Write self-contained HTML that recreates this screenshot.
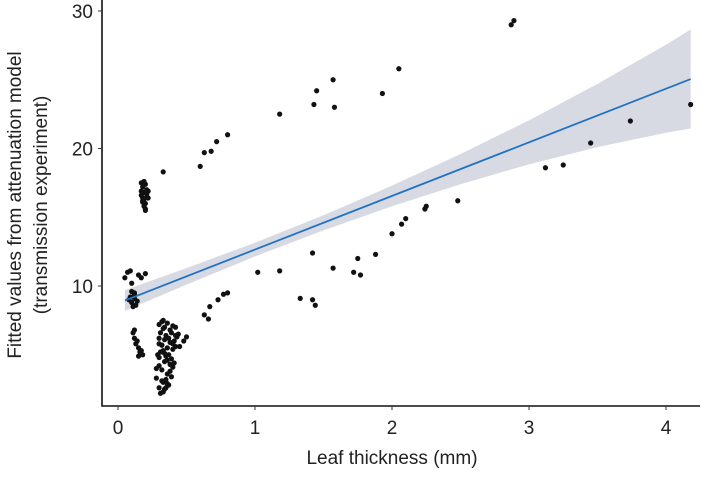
<!DOCTYPE html>
<html><head><meta charset="utf-8"><style>
body{margin:0;background:#fff;}
svg text{font-family:"Liberation Sans",Arial,sans-serif;}
</style></head><body>
<svg id="chart" width="709" height="472" viewBox="0 0 709 472">
<g id="band-g"></g><g id="pts-g"></g><g id="line-g"></g><g id="axes-g"></g>
</svg>
<script>
const xTicks=[0,1,2,3,4];
const yTicks=[10,20,30];
const fitX=[0.05,4.18];
const fitIntercept=8.75, fitSlope=3.9;
const bandX=[0.05,0.5,1,1.5,2,2.5,3,3.5,4,4.18];
const bandHalf=[0.75,0.6,0.5,0.55,0.75,1.1,1.6,2.3,3.2,3.6];
const ptX=[0.33,0.6,0.63,0.68,0.72,0.8,1.18,1.43,1.45,1.57,1.58,1.93,2.05,2.87,2.89,4.18,3.74,3.45,3.25,3.12,2.48,2.25,2.24,2.1,2.07,2.0,1.88,1.75,1.72,1.77,1.57,1.42,1.44,1.42,1.33,1.18,1.02,0.8,0.77,0.73,0.67,0.63,0.66,0.5,
0.17,0.18,0.19,0.2,0.21,0.18,0.17,0.2,0.22,0.19,0.18,0.21,0.2,0.19,0.17,0.2,0.18,0.21,0.19,0.22,
0.05,0.07,0.09,0.1,0.12,0.15,0.17,0.2,0.08,0.1,0.12,0.09,0.11,0.13,0.14,0.1,0.12,
0.11,0.12,0.13,0.15,0.16,0.14,0.18,0.17,0.12,0.15,
0.3,0.32,0.34,0.36,0.38,0.4,0.42,0.44,0.31,0.33,0.35,0.37,0.39,0.41,0.43,0.3,0.32,0.34,0.36,0.38,0.4,0.42,0.29,0.31,0.33,0.35,0.37,0.39,0.41,0.45,0.28,0.3,0.32,0.34,0.36,0.38,0.4,0.33,0.35,0.37,0.39,0.3,0.32,0.34,0.36,0.31,0.33,0.35,0.3,0.32,0.34,0.36,0.38,0.48,0.4,0.42,0.28,0.3,0.33];
const ptY=[18.3,18.7,19.7,19.8,20.5,21,22.5,23.2,24.2,25,23,24,25.8,29,29.3,23.2,22,20.4,18.8,18.6,16.2,15.8,15.6,14.9,14.5,13.8,12.3,12,11,10.8,11.3,12.4,8.6,9,9.1,11.1,11,9.5,9.4,9,8.5,7.9,7.6,6.3,
17.5,17.2,16.8,17.4,16.5,16.2,16.6,16,16.9,15.8,16.4,17,15.6,16.3,16.9,15.5,16.1,16.7,17.6,16.4,
10.6,11,11.1,10.2,9.5,10.8,10.6,10.9,9.0,8.8,9.4,9.2,8.5,8.6,8.9,9.6,9.1,
6.6,6.2,5.8,5.5,5.2,6.0,5.0,5.3,6.8,4.9,
7.2,7.4,7.0,7.3,6.8,7.1,7.0,6.5,6.6,6.9,6.4,6.2,6.6,6.0,6.3,5.8,5.7,6.1,5.5,5.9,5.4,5.6,5.0,5.2,5.3,4.9,5.0,4.7,4.4,5.6,4.0,4.2,3.9,4.5,3.6,3.8,4.1,3.0,3.2,2.8,3.4,2.6,3.1,2.5,2.9,2.2,2.3,2.6,6.2,5.7,5.1,4.6,4.3,6.0,5.8,6.4,3.3,4.8,7.5];
const X0=118,XS=137,Y0=423.5,YS=13.75;
const sx=v=>X0+v*XS, sy=v=>Y0-v*YS;
const NS='http://www.w3.org/2000/svg';
function mk(t,a,p){const e=document.createElementNS(NS,t);for(const k in a)e.setAttribute(k,a[k]);p.appendChild(e);return e;}
const fit=x=>fitIntercept+fitSlope*x;
let up=bandX.map((x,i)=>sx(x)+','+sy(fit(x)+bandHalf[i]));
let lo=bandX.map((x,i)=>sx(x)+','+sy(fit(x)-bandHalf[i])).reverse();
const band=mk('polygon',{points:up.concat(lo).join(' '),fill:'#d8dae3'},document.getElementById('band-g'));


const pg=document.getElementById('pts-g');
ptX.forEach((x,i)=>{const c=mk('circle',{cx:sx(x),cy:sy(ptY[i]),r:2.6,fill:'#111'},pg);

});
const ln=mk('line',{x1:sx(fitX[0]),y1:sy(fit(fitX[0])),x2:sx(fitX[1]),y2:sy(fit(fitX[1])),stroke:'#2272c3','stroke-width':1.8},document.getElementById('line-g'));


const ag=document.getElementById('axes-g');
const ax=mk('path',{d:'M102,0 V406 H700',fill:'none',stroke:'#111','stroke-width':1.6},ag);


xTicks.forEach(v=>{mk('line',{x1:sx(v),x2:sx(v),y1:406,y2:410,stroke:'#333'},ag);
const t=mk('text',{x:sx(v),y:434,'font-size':19,'text-anchor':'middle',fill:'#222'},ag);t.textContent=v;

});
yTicks.forEach(v=>{mk('line',{x1:98,x2:102,y1:sy(v),y2:sy(v),stroke:'#333'},ag);
const t=mk('text',{x:93,y:sy(v)+7,'font-size':19,'text-anchor':'end',fill:'#222'},ag);t.textContent=v;

});
const xt=mk('text',{x:392,y:464,'font-size':19,'text-anchor':'middle',fill:'#222'},ag);xt.textContent='Leaf thickness (mm)';


const yt=mk('text',{transform:'translate(0,205) rotate(-90)','font-size':19,'text-anchor':'middle',fill:'#222'},ag);


const a=mk('tspan',{x:0,y:21},yt);a.textContent='Fitted values from attenuation model';
const b=mk('tspan',{x:0,y:47},yt);b.textContent='(transmission experiment)';
</script>
</body></html>
